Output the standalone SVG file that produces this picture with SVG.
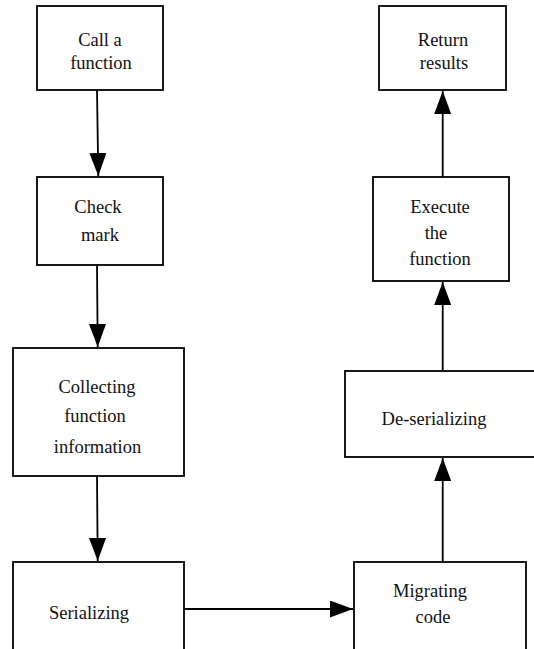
<svg xmlns="http://www.w3.org/2000/svg" width="534" height="649" viewBox="0 0 534 649">
<style>
.box{fill:#fff;stroke:#000;stroke-width:1.8}
.lbl{font-family:"Liberation Serif","Times New Roman",serif;font-size:18.5px;fill:#111;text-anchor:middle}
.con{stroke:#000;stroke-width:1.8;fill:none;marker-end:url(#ah)}
</style>
<defs>
<marker id="ah" markerUnits="userSpaceOnUse" markerWidth="23" markerHeight="17" refX="23" refY="8.5" orient="auto">
<path d="M0,0 L23,8.5 L0,17 z" fill="#000"/>
</marker>
</defs>
<rect width="534" height="649" fill="#fff"/>
<g id="n1"><rect class="box" x="37" y="6" width="126" height="84"/>
<text class="lbl" x="100" y="46">Call a</text><text class="lbl" x="101" y="69">function</text></g>
<g id="n2"><rect class="box" x="37" y="177" width="126" height="88"/>
<text class="lbl" x="98" y="213">Check</text><text class="lbl" x="100" y="241">mark</text></g>
<g id="n3"><rect class="box" x="13" y="348" width="171" height="128"/>
<text class="lbl" x="97" y="393">Collecting</text><text class="lbl" x="95" y="422">function</text><text class="lbl" x="97.5" y="453">information</text></g>
<g id="n4"><rect class="box" x="13" y="562" width="171" height="110"/>
<text class="lbl" x="89" y="619">Serializing</text></g>
<g id="n5"><rect class="box" x="354" y="562" width="172" height="110"/>
<text class="lbl" x="430" y="597">Migrating</text><text class="lbl" x="433" y="623">code</text></g>
<g id="n6"><rect class="box" x="345" y="371" width="200" height="86"/>
<text class="lbl" x="434" y="425">De-serializing</text></g>
<g id="n7"><rect class="box" x="373" y="177" width="136" height="104"/>
<text class="lbl" x="440" y="213">Execute</text><text class="lbl" x="436" y="239">the</text><text class="lbl" x="440" y="265">function</text></g>
<g id="n8"><rect class="box" x="379" y="6" width="127" height="84"/>
<text class="lbl" x="443" y="46">Return</text><text class="lbl" x="444" y="69">results</text></g>
<g id="connectors">
<path class="con" d="M97,90 L98.3,176"/>
<path class="con" d="M97,265 L97.7,347"/>
<path class="con" d="M97,476 L97.7,561"/>
<path class="con" d="M184,609 L353,609"/>
<path class="con" d="M442.7,562 L442.7,458"/>
<path class="con" d="M442.7,371 L442.7,282"/>
<path class="con" d="M442.7,177 L442.7,91"/>
</g>
</svg>
